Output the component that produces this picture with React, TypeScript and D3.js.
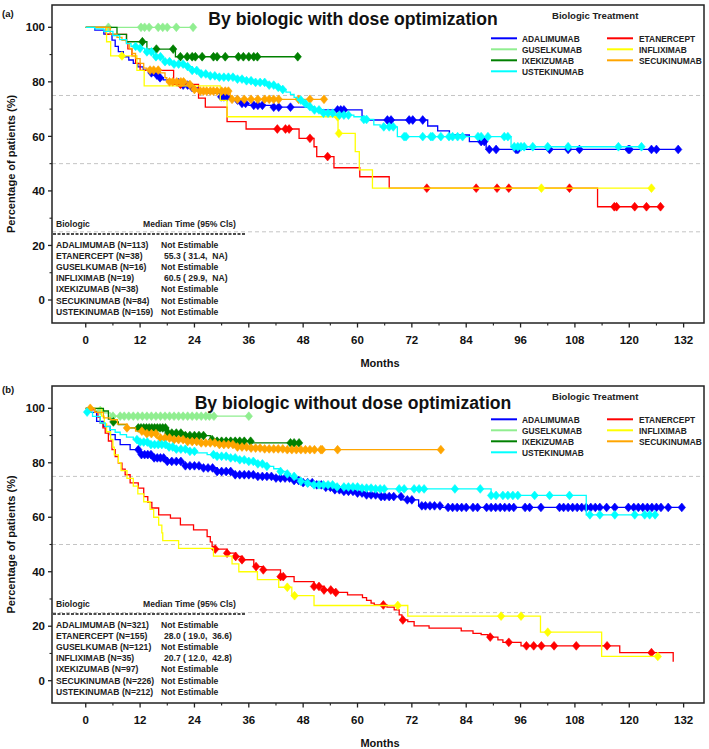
import React from 'react';
import * as d3 from 'd3';

// ---------- shared categories / ticks ----------
const BIOLOGICS = ['ADALIMUMAB', 'ETANERCEPT', 'GUSELKUMAB', 'INFLIXIMAB', 'IXEKIZUMAB', 'SECUKINUMAB', 'USTEKINUMAB'];
const COLORS = ['#0000ff', '#ff0000', '#90ee90', '#ffff00', '#008000', '#ffa500', '#00ffff'];
const LEGEND_COL1 = ['ADALIMUMAB', 'GUSELKUMAB', 'IXEKIZUMAB', 'USTEKINUMAB'];
const LEGEND_COL2 = ['ETANERCEPT', 'INFLIXIMAB', 'SECUKINUMAB'];
const MONTH_TICKS = [0, 12, 24, 36, 48, 60, 72, 84, 96, 108, 120, 132];
const MONTH_MINOR = [6, 18, 30, 42, 54, 66, 78, 90, 102, 114, 126];
const PCT_TICKS = [0, 20, 40, 60, 80, 100];
const PCT_MINOR = [10, 30, 50, 70, 90];
const GRID_LINES = [25, 50, 75];

// ---------- Panel (a): with dose optimization ----------
const A_ADA_STEPS = [[0, 100], [2, 99], [4, 97.5], [5.8, 95.3], [6.5, 93], [7.2, 91.1], [8.3, 89.2], [9.5, 88], [10.5, 86.8], [11.5, 85.5], [12.7, 84.3], [14, 83.3], [14.9, 82.5], [16, 81.5], [17.1, 80.7], [19, 79.7], [20.9, 78.8], [23, 77.9], [24.6, 77], [27, 75.8], [29.7, 74.5], [32, 73.3], [34, 72.1], [36, 71.4], [41, 70.7], [50.4, 69.7], [61, 66], [75.5, 63.8], [77.7, 62], [80.3, 60.5], [84.7, 58.1], [88.4, 55.2]];
const A_ADA_CENSOR = [14.5, 15.7, 16.4, 20.5, 21.5, 22.5, 23.5, 29.9, 30.5, 31.2, 33.5, 34.5, 35.3, 37.1, 38, 39, 41.5, 42.6, 45.2, 55.6, 56.3, 57, 66.6, 67.4, 71.4, 72.2, 74.4, 87.3, 88, 89.1, 90.6, 95, 95.4, 102.4, 106.5, 109, 119.8, 120.1, 124.9, 126, 130.8];
const A_ADA_END = 130.8;

const A_ETA_STEPS = [[0, 100], [4.5, 97.4], [9, 94.7], [9.3, 92.1], [10.2, 89.5], [11, 86.8], [12, 84.2], [19.4, 79.1], [24.9, 74], [26.4, 70.7], [31.2, 65.4], [35.4, 62.7], [47.1, 59.3], [50.4, 56.2], [51, 52.6], [54.8, 48.5], [60.5, 45.2], [67, 41], [113, 34.2]];
const A_ETA_CENSOR = [20.9, 42.3, 44.1, 44.9, 49.5, 53.4, 75.3, 86.2, 90.8, 93.4, 106.8, 116.7, 117.2, 121.2, 123.8, 126.9];
const A_ETA_END = 126.9;

const A_GUS_STEPS = [[0, 100]];
const A_GUS_CENSOR = [5, 12.2, 13, 14, 16, 17, 18, 20, 23.7];
const A_GUS_END = 23.7;

const A_INF_STEPS = [[0, 100], [4.6, 94.7], [5.5, 89.5], [11.3, 84.2], [12.9, 78.5], [29.7, 73.2], [31.2, 67.2], [55.7, 61.1], [59.5, 54.4], [60.4, 47.7], [63.3, 41]];
const A_INF_CENSOR = [8, 55.6, 55.9, 100.6, 124.9];
const A_INF_END = 124.9;

const A_IXE_STEPS = [[0, 100], [6.9, 97.4], [9, 94.7], [13.5, 92], [19.8, 89.2]];
const A_IXE_CENSOR = [12.5, 15.6, 19.3, 20.9, 22.4, 23.5, 24.2, 25.7, 28.2, 29, 30.8, 33.7, 34.8, 36, 37.1, 37.9, 46.8];
const A_IXE_END = 46.8;

const A_SEC_STEPS = [[0, 100], [5.4, 97.5], [6.9, 96.3], [8, 95.2], [9, 94.1], [9.6, 92.3], [10.2, 90.4], [11, 88.5], [12, 86.8], [12.8, 85], [13.5, 84.3], [16.4, 83.3], [17.5, 81.5], [17.9, 80], [22.4, 79], [23.5, 77.2], [24.5, 76.6], [31.9, 74.8], [32.2, 73.6]];
const A_SEC_CENSOR = [14.2, 15, 16, 18.5, 19.2, 20.1, 21, 21.6, 23, 24, 25.3, 26, 26.7, 27.5, 28.2, 29, 30, 30.8, 31.5, 32.3, 33.5, 35, 36.5, 38, 39.5, 40.5, 41.5, 42.6, 47, 49.5, 52.6];
const A_SEC_END = 52.6;

const A_UST_STEPS = [[0, 100], [2, 99.4], [4, 98.5], [6, 97], [7.5, 95.5], [9, 94], [10, 93], [11.3, 92.3], [13, 91], [15, 89.2], [17.1, 87.4], [19, 86.5], [21.6, 85.6], [23.5, 84.2], [25.3, 82.9], [27, 82.2], [29, 81.7], [32.6, 81], [35, 80.4], [37.1, 79.8], [40, 78.8], [42, 78], [43, 77.2], [44.2, 76.2], [45.2, 75.4], [46, 74.3], [46.7, 73.3], [48, 72], [48.9, 70.9], [50.5, 69.7], [51.9, 68.5], [54.8, 67.8], [59.2, 67.2], [61, 66.2], [63.6, 64.2], [65, 63.5], [68.8, 59.9], [93.9, 56.2]];
const A_UST_CENSOR = [11, 12, 13.5, 14.5, 15.5, 16.5, 17.5, 18.5, 19.5, 20.5, 21.5, 22.5, 23.5, 24.5, 25.5, 26.5, 27.5, 28.5, 29.5, 30.5, 31.5, 32.5, 33.5, 34.5, 35.5, 36.5, 37.5, 38.5, 39.5, 40.5, 41.5, 42.5, 43.5, 47.5, 48.5, 49.5, 50.5, 51.5, 52.5, 53.5, 54.5, 56, 57, 58, 61.4, 62, 65.8, 67, 67.9, 70.3, 70.7, 74.4, 76.2, 76.6, 78.4, 80.2, 81, 82.1, 83.2, 86.6, 87.3, 88.8, 92.4, 93.2, 94.6, 95.4, 96.1, 96.8, 98.7, 102, 106.5, 117.6, 122.7];
const A_UST_END = 122.7;

const A_TABLE_NAMES = ['ADALIMUMAB (N=113)', 'ETANERCEPT (N=38)', 'GUSELKUMAB (N=16)', 'INFLIXIMAB (N=19)', 'IXEKIZUMAB (N=38)', 'SECUKINUMAB (N=84)', 'USTEKINUMAB (N=159)'];
const A_TABLE_MEDIANS = ['Not Estimable', '55.3 ( 31.4,  NA)', 'Not Estimable', '60.5 ( 29.9,  NA)', 'Not Estimable', 'Not Estimable', 'Not Estimable'];

// ---------- Panel (b): without dose optimization ----------
const B_ADA_STEPS = [[0, 100], [1, 98.5], [2.4, 95.2], [3.9, 93.4], [5.4, 90.3], [6.5, 88.5], [7.6, 86.7], [9.8, 84.8], [12, 83], [15, 81.8], [17.9, 80.5], [21.6, 78.9], [25.3, 78.1], [29, 76.8], [32.7, 75.6], [37.1, 75], [41.5, 74.4], [46, 73.5], [48, 72.7], [50.4, 71.9], [52.5, 71], [54.8, 70.1], [57, 69.5], [59.2, 68.9], [62, 68.2], [65, 67.6], [70, 66.4], [73.5, 64.2], [78.5, 63.6]];
const B_ADA_CENSOR = [11.6, 12.3, 13, 13.7, 14.4, 15.1, 15.8, 16.5, 17.2, 18, 19, 20, 21, 22, 23, 24, 25, 26, 27, 28, 29, 30, 31, 32, 33, 34, 35, 36, 37, 38, 39, 40, 41, 42, 43, 44, 45, 46, 47, 48, 49, 50, 51, 52, 53, 54, 55, 56, 57, 58, 59, 60, 61, 62, 63, 64, 65.2, 66, 67, 68, 69.6, 71, 72, 74.2, 75, 76, 77, 78.2, 80, 81, 82, 83, 84, 85.5, 86.5, 88.5, 89.5, 90.5, 91.5, 92.5, 93.5, 94.5, 97, 98, 100.5, 104.6, 105.5, 106.5, 107.5, 108.5, 109.5, 110.5, 111.5, 112.5, 113.5, 115, 116.8, 119.8, 121, 122, 123, 124, 125, 126, 127, 128.6, 131.6];
const B_ADA_END = 131.6;

const B_ETA_STEPS = [[0, 100], [1, 99.4], [2.1, 98.9], [2.7, 96.8], [3.2, 94.6], [3.8, 92.8], [4.3, 90.9], [5, 88], [5.8, 84.8], [6.5, 82.3], [7.2, 79.9], [8, 77.7], [8.7, 75.6], [9.8, 72.6], [11.6, 70.7], [12.8, 67.6], [13.7, 65.5], [14.6, 63.4], [16.1, 60.9], [18.7, 59.7], [20.9, 57.2], [23.8, 55.4], [26.8, 52.9], [27.5, 51], [27.9, 49.3], [28.6, 48.3], [31.2, 46.8], [33.1, 45.6], [34.5, 44.4], [37.1, 41.9], [39, 40.7], [43, 38.2], [46, 36.4], [50.4, 34.6], [52.6, 33.3], [54.8, 32.4], [57.8, 31.5], [61.1, 30.5], [62, 29.5], [63, 28.5], [63.7, 27.8], [66.5, 27], [68.1, 26], [69.2, 24.2], [69.8, 22.3], [71.1, 21.7], [72.5, 20.1], [75.8, 19.3], [82.9, 18.3], [85.5, 17.4], [87.3, 16.9], [88.8, 16], [91, 15], [92.1, 14.1], [96.1, 12.8], [117.9, 10.3], [129.7, 7]];
const B_ETA_CENSOR = [28.6, 31.2, 33.1, 34.5, 37.6, 39.2, 43, 43.6, 50.4, 51.5, 52.6, 54.1, 55.2, 65.7, 70, 89.3, 93.4, 97.3, 98.9, 100.6, 103.4, 108.3, 115.1, 124.9];
const B_ETA_END = 129.7;

const B_GUS_STEPS = [[0, 100], [2, 99.2], [4, 98.3], [5.4, 97.1]];
const B_GUS_CENSOR = [3.2, 6, 7.6, 8.5, 9.5, 10.5, 11.5, 12.5, 13.5, 14.5, 15.5, 16.5, 17.5, 18.5, 19.5, 20.5, 21.5, 22.5, 23.5, 24.5, 25.5, 26.5, 27.3, 28.3, 36];
const B_GUS_END = 36;

const B_INF_STEPS = [[0, 100], [3.5, 97.1], [4.1, 94.3], [4.6, 91.4], [5.5, 88.6], [6, 85.7], [6.3, 82.9], [7.2, 80], [7.8, 77.1], [9.1, 74.3], [10.5, 71.4], [11.5, 68.6], [12.8, 65.7], [14.2, 62.9], [15, 60], [16.1, 57.1], [16.8, 54.3], [17, 51.4], [20.5, 48.6], [28.2, 45.7], [32.3, 42.9], [33.8, 40], [37.9, 37.1], [42.6, 34.3], [45.5, 31.2], [50.4, 27.6], [71.1, 23.7], [100.4, 17.8], [113.9, 8.9]];
const B_INF_CENSOR = [44.5, 46.1, 68.9, 91.7, 96.1, 102, 126.3];
const B_INF_END = 126.3;

const B_IXE_STEPS = [[0, 100], [3.9, 99], [5, 96], [6, 95], [7.2, 94], [9.1, 92.8], [18.2, 90.9], [22, 90], [27.5, 88.5], [28, 87.9], [36.8, 87.3]];
const B_IXE_CENSOR = [6.1, 11.6, 12.2, 12.8, 13.4, 14, 14.6, 15.2, 15.8, 16.4, 17, 17.6, 18.2, 19, 20, 21, 22, 23, 24, 25, 26, 27.9, 29, 30, 31, 32, 33, 34, 35, 36.4, 45.2, 46, 47.1];
const B_IXE_END = 47.1;

const B_SEC_STEPS = [[0, 100], [2, 98.5], [3.9, 96.5], [5.4, 95.8], [7, 94.2], [9.1, 92.8], [11, 91.6], [12.8, 90.7], [15.7, 89.1], [19.4, 88.5], [22, 87.8], [25.3, 87.3], [29, 86.7], [32.7, 85.8], [36, 85.4], [38.6, 85.1], [44.5, 84.8]];
const B_SEC_CENSOR = [1, 9.1, 12.4, 13.5, 14.5, 15.5, 16.5, 17.5, 18.5, 19.5, 20.5, 21.5, 22.5, 23.5, 24.5, 25.5, 26.5, 27.5, 28.5, 29.5, 30.5, 31.5, 32.5, 33.5, 34.5, 35.5, 36.5, 37.5, 38.5, 39.5, 40.5, 41.5, 42.5, 43.5, 44.5, 45.5, 46.5, 47.5, 48.5, 49.5, 50.5, 51.9, 52.2, 55.6, 78.4];
const B_SEC_END = 78.4;

const B_UST_STEPS = [[0, 98.6], [1.5, 97], [3.2, 94.6], [4.3, 93.3], [5.4, 92.2], [6.5, 91.2], [7.6, 90.3], [9, 89.4], [10.5, 88.5], [12, 87.6], [14.2, 86.7], [17.9, 85.8], [20, 85], [22.4, 84.2], [24.5, 83.6], [26.8, 83], [29, 82.4], [31.2, 81.8], [33.5, 81.1], [35.6, 80.5], [38, 79.6], [40, 78.7], [41.5, 77.8], [43, 76.8], [44.2, 75.9], [45.2, 75], [46.3, 74.1], [47.4, 73.2], [49, 72.5], [50.4, 71.9], [54.8, 71.1], [60.7, 70.7], [64, 70.4], [89.5, 68], [110.5, 60.9]];
const B_UST_CENSOR = [0.3, 11.3, 12, 12.8, 13.6, 14.4, 15.2, 16, 16.8, 17.6, 18.4, 19.2, 20, 21, 22, 23, 24, 28.2, 29, 30, 31, 32, 33, 34, 35, 36, 37, 38, 39, 40, 43, 44.5, 46, 47.5, 49, 50.4, 51.5, 52.5, 53.5, 54.5, 55.5, 57, 58, 59, 60, 61, 62, 63, 64, 65, 65.9, 69.2, 70.3, 72.5, 73.6, 74.7, 81.5, 87.1, 89.5, 90.6, 92.1, 93.2, 94.3, 95.4, 99.1, 102.4, 106.8, 111.3, 113.5, 116.8, 121.2, 123.4, 124.5, 125.7];
const B_UST_END = 125.7;

const B_TABLE_NAMES = ['ADALIMUMAB (N=321)', 'ETANERCEPT (N=155)', 'GUSELKUMAB (N=121)', 'INFLIXIMAB (N=35)', 'IXEKIZUMAB (N=97)', 'SECUKINUMAB (N=226)', 'USTEKINUMAB (N=212)'];
const B_TABLE_MEDIANS = ['Not Estimable', '28.0 ( 19.0,  36.6)', 'Not Estimable', '20.7 ( 12.0,  42.8)', 'Not Estimable', 'Not Estimable', 'Not Estimable'];

type Series = { name: string; steps: number[][]; censor: number[]; end: number };

const A_SERIES: Series[] = [
  { name: 'ADALIMUMAB', steps: A_ADA_STEPS, censor: A_ADA_CENSOR, end: A_ADA_END },
  { name: 'ETANERCEPT', steps: A_ETA_STEPS, censor: A_ETA_CENSOR, end: A_ETA_END },
  { name: 'GUSELKUMAB', steps: A_GUS_STEPS, censor: A_GUS_CENSOR, end: A_GUS_END },
  { name: 'INFLIXIMAB', steps: A_INF_STEPS, censor: A_INF_CENSOR, end: A_INF_END },
  { name: 'IXEKIZUMAB', steps: A_IXE_STEPS, censor: A_IXE_CENSOR, end: A_IXE_END },
  { name: 'SECUKINUMAB', steps: A_SEC_STEPS, censor: A_SEC_CENSOR, end: A_SEC_END },
  { name: 'USTEKINUMAB', steps: A_UST_STEPS, censor: A_UST_CENSOR, end: A_UST_END },
];
const B_SERIES: Series[] = [
  { name: 'ADALIMUMAB', steps: B_ADA_STEPS, censor: B_ADA_CENSOR, end: B_ADA_END },
  { name: 'ETANERCEPT', steps: B_ETA_STEPS, censor: B_ETA_CENSOR, end: B_ETA_END },
  { name: 'GUSELKUMAB', steps: B_GUS_STEPS, censor: B_GUS_CENSOR, end: B_GUS_END },
  { name: 'INFLIXIMAB', steps: B_INF_STEPS, censor: B_INF_CENSOR, end: B_INF_END },
  { name: 'IXEKIZUMAB', steps: B_IXE_STEPS, censor: B_IXE_CENSOR, end: B_IXE_END },
  { name: 'SECUKINUMAB', steps: B_SEC_STEPS, censor: B_SEC_CENSOR, end: B_SEC_END },
  { name: 'USTEKINUMAB', steps: B_UST_STEPS, censor: B_UST_CENSOR, end: B_UST_END },
];

const FONT = '"Liberation Sans", Arial, Helvetica, sans-serif';
const colorOf = (name: string) => COLORS[BIOLOGICS.indexOf(name)];

const survivalAt = (steps: number[][], t: number) => {
  let s = steps[0][1];
  for (const [st, sv] of steps) {
    if (st <= t + 1e-9) s = sv;
    else break;
  }
  return s;
};

const DIAMOND = 'M0,-4.4L3.7,0L0,4.4L-3.7,0Z';

type PanelProps = {
  top: number;
  bottom: number;
  y100: number;
  y0: number;
  label: string;
  labelY: number;
  title: string;
  titleY: number;
  series: Series[];
  tableNames: string[];
  tableMedians: string[];
};

const LEFT = 52;
const RIGHT = 704;

function Panel(p: PanelProps) {
  const x = d3.scaleLinear().domain([-7.45, 136.5]).range([LEFT, RIGHT]);
  const y = d3.scaleLinear().domain([0, 100]).range([p.y0, p.y100]);
  const line = d3
    .line<number[]>()
    .x((d) => x(d[0]))
    .y((d) => y(d[1]))
    .curve(d3.curveStepAfter);

  const legendTop = p.top + 33.3;
  const tableBase = p.bottom;

  return (
    <g>
      {/* panel label */}
      <text x={2} y={p.labelY} fontFamily={FONT} fontWeight="bold" fontSize={9.5} fill="#111">
        {p.label}
      </text>
      {/* grid */}
      {GRID_LINES.map((g) => (
        <line key={g} x1={LEFT} x2={RIGHT} y1={y(g)} y2={y(g)} stroke="#c4c4c4" strokeWidth={1} strokeDasharray="4,3" />
      ))}
      {/* curves */}
      {p.series.map((s) => {
        const pts = s.steps.map((d) => [d[0], d[1]]);
        const last = pts[pts.length - 1];
        if (s.end > last[0]) pts.push([s.end, last[1]]);
        const c = colorOf(s.name);
        return (
          <g key={s.name}>
            <path d={line(pts) || ''} fill="none" stroke={c} strokeWidth={1.3} />
            {s.censor.map((t, i) => (
              <path key={i} d={DIAMOND} transform={`translate(${x(t)},${y(survivalAt(s.steps, t))})`} fill={c} stroke={c} strokeWidth={0.6} />
            ))}
          </g>
        );
      })}
      {/* frame */}
      <rect x={LEFT} y={p.top} width={RIGHT - LEFT} height={p.bottom - p.top} fill="none" stroke="#222" strokeWidth={1.5} />
      {/* y axis ticks */}
      {PCT_TICKS.map((v) => (
        <g key={v}>
          <line x1={LEFT - 4} x2={LEFT} y1={y(v)} y2={y(v)} stroke="#222" strokeWidth={1.3} />
          <text x={45} y={y(v)} dy="0.36em" textAnchor="end" fontFamily={FONT} fontWeight="bold" fontSize={11.5} fill="#111">
            {v}
          </text>
        </g>
      ))}
      {PCT_MINOR.map((v) => (
        <line key={v} x1={LEFT - 2.5} x2={LEFT} y1={y(v)} y2={y(v)} stroke="#222" strokeWidth={1.1} />
      ))}
      {/* x axis ticks */}
      {MONTH_TICKS.map((v) => (
        <g key={v}>
          <line x1={x(v)} x2={x(v)} y1={p.bottom} y2={p.bottom + 4.5} stroke="#222" strokeWidth={1.3} />
          <text x={x(v)} y={p.bottom + 21} textAnchor="middle" fontFamily={FONT} fontWeight="bold" fontSize={11.5} fill="#111">
            {v}
          </text>
        </g>
      ))}
      {MONTH_MINOR.map((v) => (
        <line key={v} x1={x(v)} x2={x(v)} y1={p.bottom} y2={p.bottom + 2.5} stroke="#222" strokeWidth={1.1} />
      ))}
      <text x={380} y={p.bottom + 44} textAnchor="middle" fontFamily={FONT} fontWeight="bold" fontSize={11} fill="#111">
        Months
      </text>
      <text
        transform={`translate(15,${(p.top + p.bottom) / 2}) rotate(-90)`}
        textAnchor="middle"
        fontFamily={FONT}
        fontWeight="bold"
        fontSize={11}
        fill="#111"
      >
        Percentage of patients (%)
      </text>
      {/* title */}
      <text x={353} y={p.titleY} textAnchor="middle" fontFamily={FONT} fontWeight="bold" fontSize={17.6} fill="#111">
        {p.title}
      </text>
      {/* legend */}
      <text x={552} y={p.top + 14} fontFamily={FONT} fontWeight="bold" fontSize={9.6} fill="#222">
        Biologic Treatment
      </text>
      {LEGEND_COL1.map((n, i) => (
        <g key={n}>
          <line x1={491} x2={517} y1={legendTop + i * 11} y2={legendTop + i * 11} stroke={colorOf(n)} strokeWidth={2} />
          <text x={522} y={legendTop + i * 11 + 3.2} fontFamily={FONT} fontWeight="bold" fontSize={8.4} fill="#222">
            {n}
          </text>
        </g>
      ))}
      {LEGEND_COL2.map((n, i) => (
        <g key={n}>
          <line x1={607} x2={633} y1={legendTop + i * 11} y2={legendTop + i * 11} stroke={colorOf(n)} strokeWidth={2} />
          <text x={639} y={legendTop + i * 11 + 3.2} fontFamily={FONT} fontWeight="bold" fontSize={8.4} fill="#222">
            {n}
          </text>
        </g>
      ))}
      {/* median table */}
      <text x={56} y={tableBase - 96.5} fontFamily={FONT} fontWeight="bold" fontSize={8.6} fill="#222">
        Biologic
      </text>
      <text x={143} y={tableBase - 96.5} fontFamily={FONT} fontWeight="bold" fontSize={8.6} fill="#222">
        Median Time (95% Cls)
      </text>
      <line x1={53} x2={245} y1={tableBase - 89} y2={tableBase - 89} stroke="#111" strokeWidth={1.4} strokeDasharray="3,1.5" />
      {p.tableNames.map((n, i) => (
        <g key={n}>
          <text x={56} y={tableBase - 75 + i * 11.1} fontFamily={FONT} fontWeight="bold" fontSize={8.6} fill="#222">
            {n}
          </text>
          <text
            x={p.tableMedians[i].startsWith('Not') ? 161 : 164}
            y={tableBase - 75 + i * 11.1}
            fontFamily={FONT}
            fontWeight="bold"
            fontSize={8.6}
            fill="#222"
            style={{ whiteSpace: 'pre' }}
          >
            {p.tableMedians[i]}
          </text>
        </g>
      ))}
    </g>
  );
}

export default function App() {
  return (
    <svg width={709} height={749} style={{ position: 'absolute', left: 0, top: 0, background: '#fff' }}>
      <rect x={0} y={0} width={709} height={749} fill="#fff" />
      <Panel
        top={5}
        bottom={323}
        y100={27.3}
        y0={300}
        label="(a)"
        labelY={16.5}
        title="By biologic with dose optimization"
        titleY={25}
        series={A_SERIES}
        tableNames={A_TABLE_NAMES}
        tableMedians={A_TABLE_MEDIANS}
      />
      <Panel
        top={386}
        bottom={703}
        y100={408.3}
        y0={680.7}
        label="(b)"
        labelY={392.5}
        title="By biologic without dose optimization"
        titleY={409}
        series={B_SERIES}
        tableNames={B_TABLE_NAMES}
        tableMedians={B_TABLE_MEDIANS}
      />
    </svg>
  );
}
